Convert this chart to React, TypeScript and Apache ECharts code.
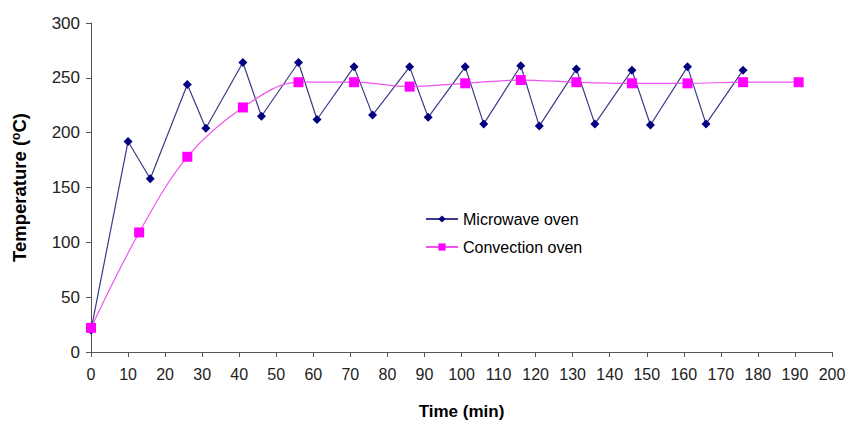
import React, { useEffect, useRef } from "react";
import * as echarts from "echarts";

const microwaveTime = [0, 10, 16, 26, 31, 41, 46, 56, 61, 71, 76, 86, 91, 101, 106, 116, 121, 131, 136, 146, 151, 161, 166, 176];
const microwaveTemp = [20, 192, 158, 244, 204, 264, 215, 264, 212, 260, 216, 260, 214, 260, 208, 261, 206, 258, 208, 257, 207, 260, 208, 257];

const convectionTime = [0, 13, 26, 41, 56, 71, 86, 101, 116, 131, 146, 161, 176, 191];
const convectionTemp = [22, 109, 178, 223, 246, 246, 242, 245, 248, 246, 245, 245, 246, 246];

const seriesNames = ["Microwave oven", "Convection oven"];
const xAxisTitle = "Time (min)";

export default function App() {
  const ref = useRef<HTMLDivElement>(null);
  useEffect(() => {
    if (!ref.current) return;
    const chart = echarts.init(ref.current, null, { renderer: "svg" });
    const font = "Arial, 'Liberation Sans', sans-serif";
    chart.setOption({
      animation: false,
      backgroundColor: "#ffffff",
      textStyle: { fontFamily: font },
      grid: { left: 91, right: 16, top: 23, bottom: 71, containLabel: false, outerBoundsMode: "none" },
      legend: {
        orient: "vertical",
        left: 420,
        top: 206,
        itemWidth: 32,
        itemHeight: 9,
        itemGap: 12,
        textStyle: { fontSize: 16, color: "#000", fontFamily: font },
        data: seriesNames,
      },
      xAxis: {
        type: "value",
        min: 0,
        max: 200,
        interval: 10,
        name: xAxisTitle,
        nameLocation: "middle",
        nameGap: 51,
        nameTextStyle: { fontSize: 17, fontWeight: "bold", color: "#000", fontFamily: font },
        axisLine: { show: true, onZero: false, lineStyle: { color: "#555", width: 1 } },
        axisTick: { show: true, inside: false, length: 5, lineStyle: { color: "#555" } },
        axisLabel: { fontSize: 16, color: "#222", margin: 14, fontFamily: font },
        splitLine: { show: false },
      },
      yAxis: {
        type: "value",
        min: 0,
        max: 300,
        interval: 50,
        name: "{a|Temperature (}{s|o}{a|C)}",
        nameLocation: "middle",
        nameGap: 62,
        nameRotate: 90,
        nameTextStyle: {
          rich: {
            a: { fontSize: 18.5, fontWeight: "bold", color: "#000", fontFamily: font },
            s: { fontSize: 12, fontWeight: "bold", color: "#000", fontFamily: font, verticalAlign: "top", padding: [0, 0, 6, 0] },
          },
        },
        axisLine: { show: true, lineStyle: { color: "#555", width: 1 } },
        axisTick: { show: true, inside: false, length: 5, lineStyle: { color: "#555" } },
        axisLabel: { fontSize: 17, color: "#222", margin: 11, fontFamily: font },
        splitLine: { show: false },
      },
      series: [
        {
          name: seriesNames[0],
          type: "line",
          data: microwaveTime.map((t, i) => [t, microwaveTemp[i]]),
          symbol: "diamond",
          symbolSize: 9,
          itemStyle: { color: "#000080" },
          lineStyle: { color: "#3a3a8a", width: 1.2 },
          z: 3,
        },
        {
          name: seriesNames[1],
          type: "line",
          data: convectionTime.map((t, i) => [t, convectionTemp[i]]),
          symbol: "rect",
          symbolSize: 10,
          smooth: 0.35,
          itemStyle: { color: "#ff00ff" },
          lineStyle: { color: "#ee55ee", width: 1.2 },
          z: 4,
        },
      ],
    });
    return () => chart.dispose();
  }, []);
  return (
    <div
      ref={ref}
      style={{ position: "fixed", left: 0, top: 0, width: 848, height: 423, background: "#fff" }}
    />
  );
}
